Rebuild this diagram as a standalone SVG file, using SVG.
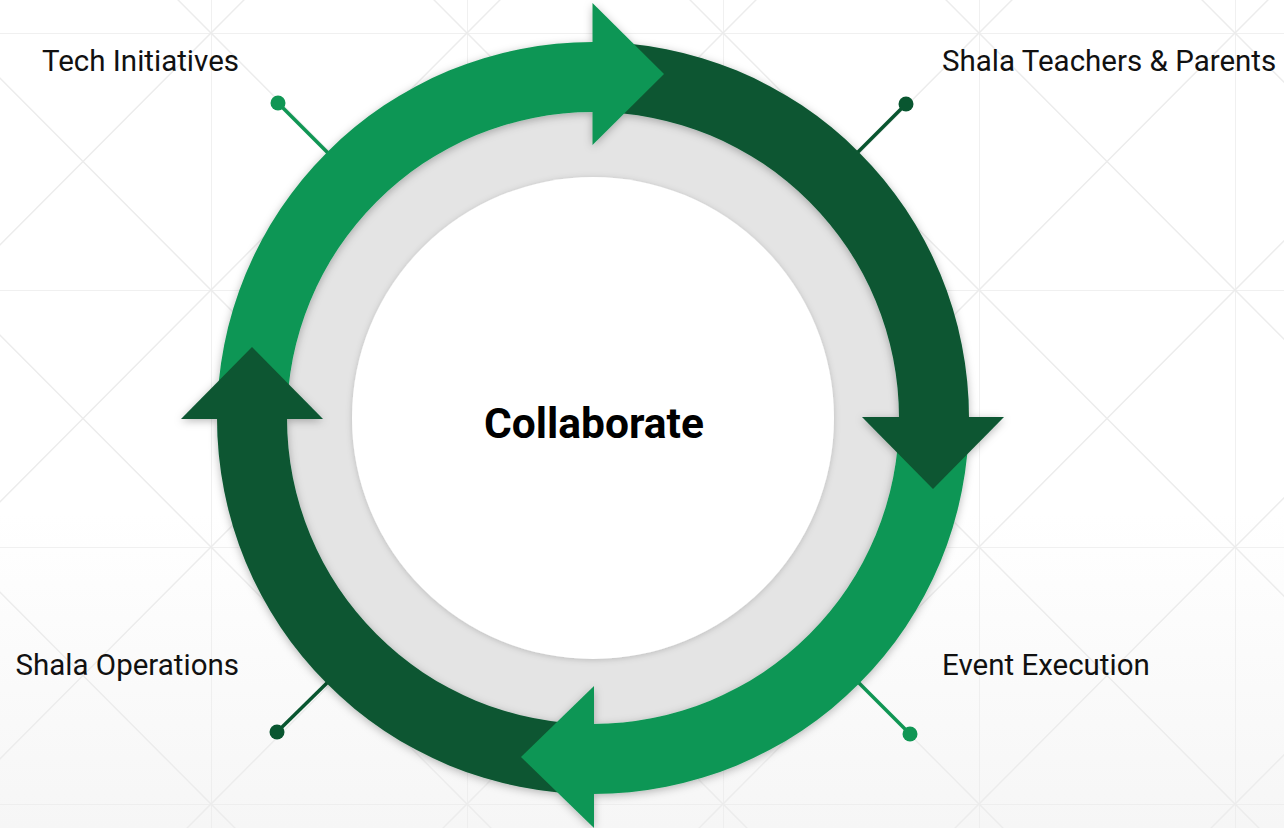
<svg xmlns="http://www.w3.org/2000/svg" width="1284" height="828" viewBox="0 0 1284 828">
  <defs>
    <linearGradient id="bg" x1="0" y1="0" x2="0" y2="1">
      <stop offset="0" stop-color="#ffffff"/>
      <stop offset="0.62" stop-color="#ffffff"/>
      <stop offset="1" stop-color="#f6f6f6"/>
    </linearGradient>
    <pattern id="grid" patternUnits="userSpaceOnUse" x="211" y="33" width="256" height="257">
      <g stroke="#ececec" stroke-width="1.5" fill="none">
        <path d="M0,0 V257 M0,0 H256"/>
        <path d="M0,0 L256,257 M256,0 L0,257"/>
      </g>
    </pattern>
    <filter id="sh" x="-10%" y="-10%" width="120%" height="120%">
      <feDropShadow dx="0" dy="2" stdDeviation="4" flood-color="#000" flood-opacity="0.28"/>
    </filter>
    <filter id="sh2" x="-10%" y="-10%" width="120%" height="120%">
      <feDropShadow dx="0" dy="1" stdDeviation="3" flood-color="#000" flood-opacity="0.18"/>
    </filter>
  </defs>
  <style>
    .lbl { font-family: Roboto, "Liberation Sans", sans-serif; font-size: 29.5px; fill: #111; }
    .title { font-family: Roboto, "Liberation Sans", sans-serif; font-size: 42.5px; font-weight: bold; fill: #000; }
    .lg { fill: #109654; }
    .dg { fill: #095630; }
    .lgs { stroke: #109654; stroke-width: 3.5; }
    .dgs { stroke: #095630; stroke-width: 3.5; }
  </style>

  <rect width="1284" height="828" fill="url(#bg)"/>
  <rect width="1284" height="828" fill="url(#grid)"/>

  <g id="core">
    <circle cx="593" cy="418" r="306" fill="#e4e4e4"/>
    <circle cx="593" cy="418" r="241" fill="#ffffff" filter="url(#sh2)"/>
  </g>

  <g id="connectors">
    <line class="lgs" x1="278" y1="103" x2="330" y2="155"/>
    <line class="dgs" x1="906" y1="104" x2="856" y2="154"/>
    <line class="dgs" x1="277" y1="732" x2="330" y2="680"/>
    <line class="lgs" x1="910" y1="734" x2="856" y2="680"/>
  </g>

  <g id="ring" filter="url(#sh)">
    <path class="lg" d="M217,418 A376,376 0 0 1 593,42 L593,112 A306,306 0 0 0 287,418 Z"/>
    <path class="dg" d="M593,42 A376,376 0 0 1 969,418 L899,418 A306,306 0 0 0 593,112 Z"/>
    <path class="lg" d="M969,418 A376,376 0 0 1 593,794 L593,724 A306,306 0 0 0 899,418 Z"/>
    <path class="dg" d="M593,794 A376,376 0 0 1 217,418 L287,418 A306,306 0 0 0 593,724 Z"/>
    <polygon class="lg" points="592.5,3 664,74 592.5,145"/>
    <polygon class="dg" points="862,417 1004,417 933,489"/>
    <polygon class="lg" points="594,686 521,757 594,828"/>
    <polygon class="dg" points="181,419 323,419 252,347"/>
  </g>

  <g id="center-label">
    <text class="title" x="594" y="438" text-anchor="middle">Collaborate</text>
  </g>

  <g id="node-tech">
    <circle class="lg" cx="278" cy="103" r="7.5"/>
    <text class="lbl" x="239" y="71" text-anchor="end">Tech Initiatives</text>
  </g>
  <g id="node-teachers">
    <circle class="dg" cx="906" cy="104" r="7.5"/>
    <text class="lbl" x="942" y="71">Shala Teachers &amp; Parents</text>
  </g>
  <g id="node-operations">
    <circle class="dg" cx="277" cy="732" r="7.5"/>
    <text class="lbl" x="239" y="675" text-anchor="end">Shala Operations</text>
  </g>
  <g id="node-event">
    <circle class="lg" cx="910" cy="734" r="7.5"/>
    <text class="lbl" x="942" y="675">Event Execution</text>
  </g>
</svg>
